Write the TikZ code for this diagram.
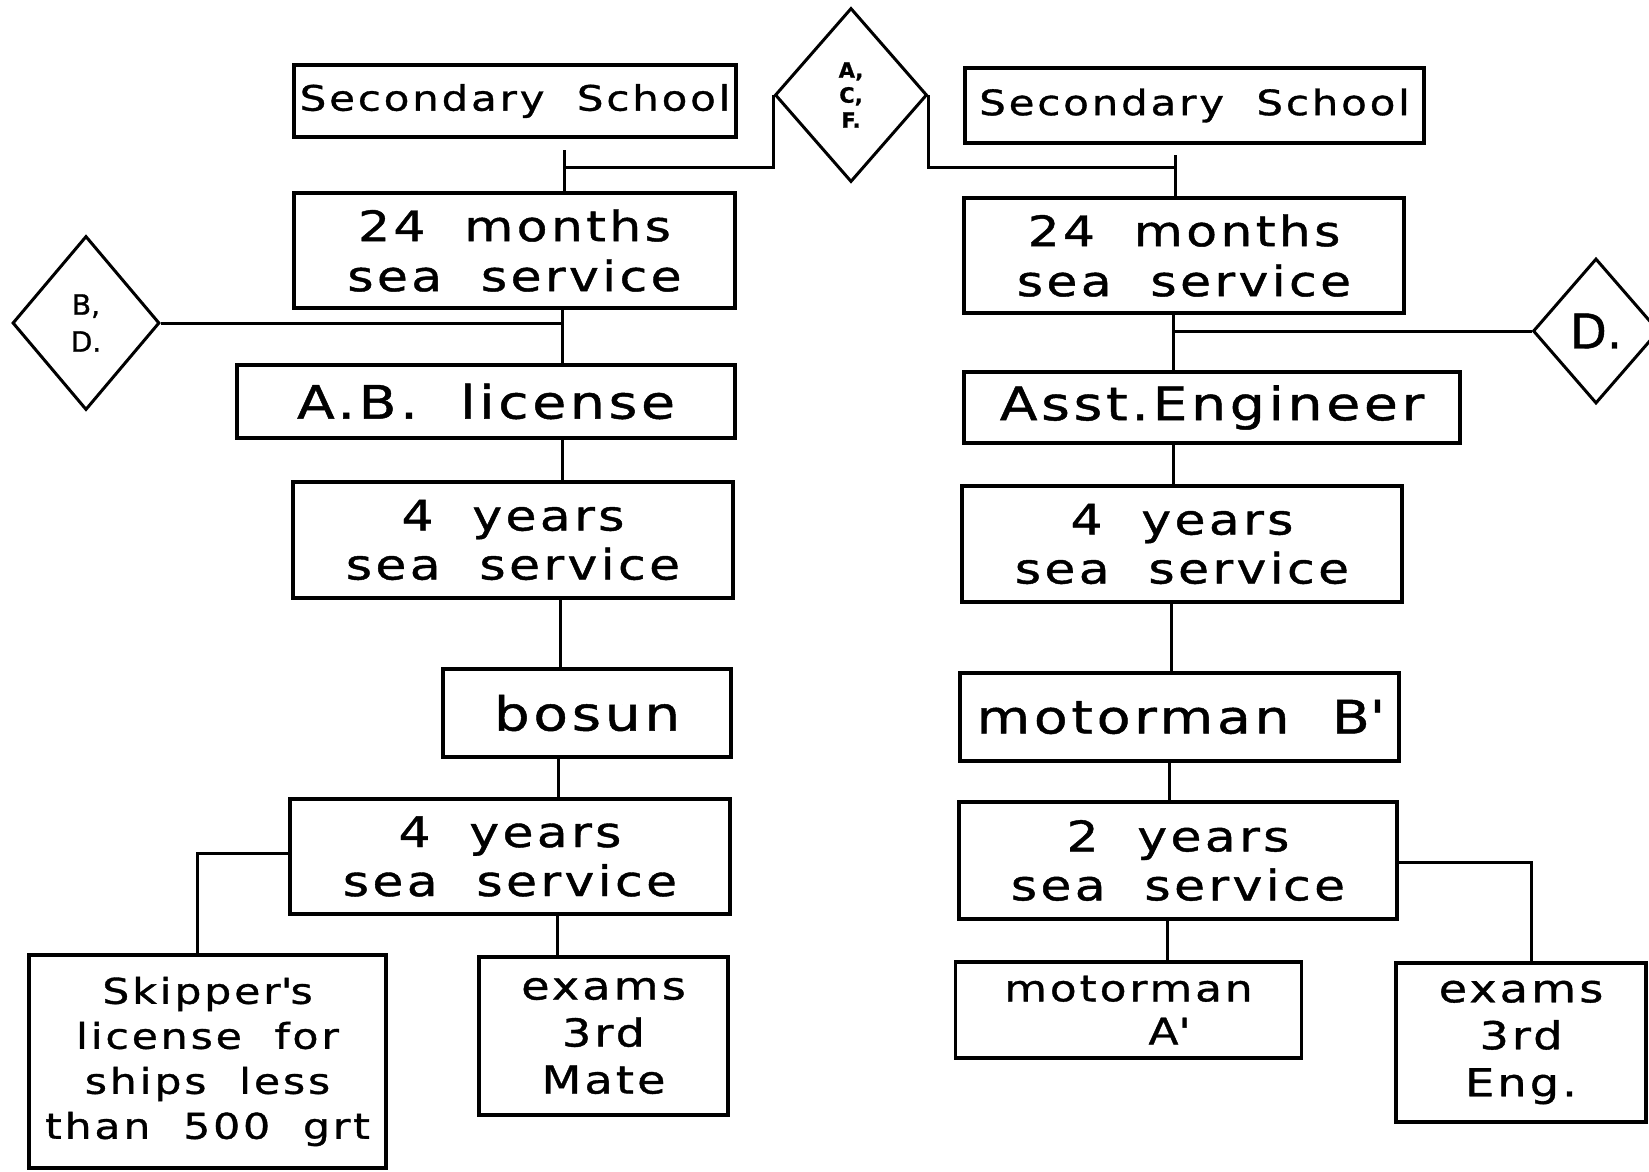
\documentclass[tikz,border=0pt]{standalone}
\usepackage{fontspec}
\usetikzlibrary{shapes.geometric}
\newfontfamily\cad[FakeStretch=1.2,LetterSpace=8,WordSpace=2,FakeBold=1]{DejaVu Sans}
\newfontfamily\diafont[FakeBold=1]{DejaVu Sans}
\newcommand{\fs}[2]{\cad\fontsize{#1}{#2}\selectfont}
\begin{document}
\begin{tikzpicture}[x=1pt,y=-1pt,
  box/.style={draw, line width=3.2pt, rectangle, inner sep=0pt, align=center},
  dia/.style={draw, line width=3pt, diamond, inner sep=0pt, align=center},
  conn/.style={line width=3pt}]
\useasboundingbox (0,0) rectangle (1649,1172);
\fill[white] (0,0) rectangle (1649,1172);

% ---- left column ----
\node[box, minimum width=442pt, minimum height=72pt, font=\fs{35}{40}] (ssL) at (515,101) {Secondary School};
\node[box, minimum width=441pt, minimum height=115pt, font=\fs{42}{50}] (m24L) at (514.5,250.5) {24 months\\sea service};
\node[box, minimum width=498pt, minimum height=73pt, font=\fs{46}{50}] (abL) at (486,401.5) {A.B. license};
\node[box, minimum width=440pt, minimum height=116pt, font=\fs{42}{49}] (y4La) at (513,540) {4 years\\sea service};
\node[box, minimum width=288pt, minimum height=88pt, font=\fs{47}{50}] (bosun) at (587,713) {bosun};
\node[box, minimum width=440pt, minimum height=115pt, font=\fs{42}{49}] (y4Lb) at (510,856.5) {4 years\\sea service};
\node[box, minimum width=357pt, minimum height=213pt, font=\fs{35.5}{45}] (skip) at (207.5,1061.5) {Skipper\textquotesingle s\\license for\\ships less\\than 500 grt};
\node[box, minimum width=249pt, minimum height=158pt, font=\fs{38.5}{47}] (mate) at (603.5,1036) {exams\\3rd\\Mate};

% ---- diamonds ----
\node[dia, minimum width=152pt, minimum height=174pt, font={\diafont\bfseries\fontsize{21}{25}\selectfont}] (dACF) at (851,95) {A,\\C,\\F.};
\node[dia, minimum width=147pt, minimum height=174pt, font={\diafont\fontsize{28}{37}\selectfont}] (dBD) at (86,323) {B,\\D.};
\node[dia, minimum width=126pt, minimum height=145pt, font={\diafont\fontsize{48}{50}\selectfont}] (dD) at (1596,331) {D.};

% ---- right column ----
\node[box, minimum width=459pt, minimum height=75pt, font=\fs{35}{40}] (ssR) at (1194.5,105.5) {Secondary School};
\node[box, minimum width=440pt, minimum height=115pt, font=\fs{42}{50}] (m24R) at (1184,255.5) {24 months\\sea service};
\node[box, minimum width=496pt, minimum height=71pt, font=\fs{46}{50}] (asst) at (1212,407.5) {Asst.Engineer};
\node[box, minimum width=440pt, minimum height=116pt, font=\fs{42}{49}] (y4R) at (1182,544) {4 years\\sea service};
\node[box, minimum width=439pt, minimum height=88pt, font=\fs{46}{50}] (mB) at (1179.5,717) {motorman B\textquotesingle};
\node[box, minimum width=438pt, minimum height=117pt, font=\fs{42}{49}] (y2) at (1178,860.5) {2 years\\sea service};
\node[box, minimum width=346pt, minimum height=96pt, font=\fs{36.5}{43}] (mA) at (1128.5,1010) {motorman\\\hspace*{80pt}A\textquotesingle};
\node[box, minimum width=250pt, minimum height=159pt, font=\fs{38.5}{47}] (eng) at (1521,1042.5) {exams\\3rd\\Eng.};

% ---- helper coordinates for connector columns ----
\coordinate (jL) at (564,167);
\coordinate (tL) at (564,150);
\coordinate (vL1) at (562,0);
\coordinate (vL2) at (560,0);
\coordinate (vL3) at (558,0);
\coordinate (vL4) at (557,0);
\coordinate (jR) at (1175,167);
\coordinate (tR) at (1175,155);
\coordinate (vR1) at (1173,0);
\coordinate (vR2) at (1171,0);
\coordinate (vR3) at (1169,0);
\coordinate (vR4) at (1167,0);

% ---- left connectors ----
\draw[conn] (dACF.west) |- (jL);
\draw[conn] (tL) -- (tL |- m24L.north);
\draw[conn] (m24L.south -| vL1) -- (abL.north -| vL1);
\draw[conn] (dBD.east) -- (dBD.east -| vL1);
\draw[conn] (abL.south -| vL1) -- (y4La.north -| vL1);
\draw[conn] (y4La.south -| vL2) -- (bosun.north -| vL2);
\draw[conn] (bosun.south -| vL3) -- (y4Lb.north -| vL3);
\draw[conn] ([yshift=3pt]y4Lb.west) -| ([xshift=-10pt]skip.north);
\draw[conn] (y4Lb.south -| vL4) -- (mate.north -| vL4);

% ---- right connectors ----
\draw[conn] (dACF.east) |- (jR);
\draw[conn] (tR) -- (tR |- m24R.north);
\draw[conn] (m24R.south -| vR1) -- (asst.north -| vR1);
\draw[conn] (dD.west) -- (dD.west -| vR1);
\draw[conn] (asst.south -| vR1) -- (y4R.north -| vR1);
\draw[conn] (y4R.south -| vR2) -- (mB.north -| vR2);
\draw[conn] (mB.south -| vR3) -- (y2.north -| vR3);
\draw[conn] (y2.south -| vR4) -- (mA.north -| vR4);
\draw[conn] ([yshift=-2pt]y2.east) -| ([xshift=10pt]eng.north);
\end{tikzpicture}
\end{document}
